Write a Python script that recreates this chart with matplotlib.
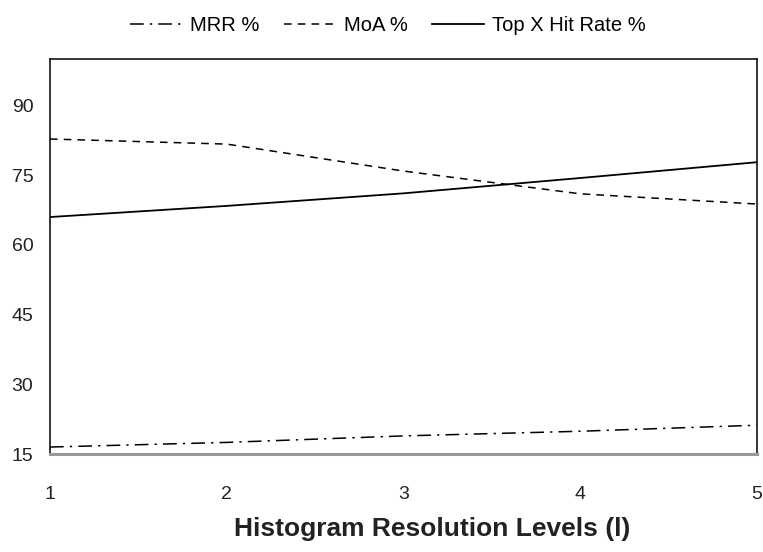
import matplotlib
matplotlib.use('Agg')
import matplotlib.pyplot as plt

plt.rcParams['font.family'] = ['Liberation Sans', 'DejaVu Sans']

# values
levels = [1, 2, 3, 4, 5]
mrr = [16.5, 17.5, 18.9, 19.9, 21.2]
moa = [82.8, 81.7, 75.9, 71.0, 68.8]
top_x = [66.0, 68.4, 71.1, 74.4, 77.8]
yticks = [15, 30, 45, 60, 75, 90]

fig = plt.figure(figsize=(7.63, 5.52), dpi=100)
ax = fig.add_axes([0.0655, 0.1775, 0.9265, 0.7155])

ax.plot(levels, mrr, color='black', lw=1.1, dashes=(9, 4, 1.5, 4), label='MRR %')
ax.plot(levels, moa, color='black', lw=1.1, dashes=(5, 4), label='MoA %')
ax.plot(levels, top_x, color='black', lw=1.3, label='Top X Hit Rate %')

ax.set_xlim(1, 5)
ax.set_ylim(15, 100)
ax.set_xticks(levels)
ax.set_yticks(yticks)
ax.tick_params(length=0, labelsize=14, colors='#222222')
ax.tick_params(axis='x', pad=23)
ax.tick_params(axis='y', pad=12)

for side in ['left', 'top', 'right']:
    ax.spines[side].set_linewidth(1.1)
ax.spines['bottom'].set_color('#999999')
ax.spines['bottom'].set_linewidth(2.2)

ax.set_xlabel('Histogram Resolution Levels (l)', fontsize=19, fontweight='bold',
              color='#222222')
ax.xaxis.set_label_coords(0.54, -0.16)

ax.legend(loc='lower center', bbox_to_anchor=(0.478, 1.015), ncol=3, frameon=False,
          fontsize=14.5, handlelength=2.6, columnspacing=1.2, handletextpad=0.4)

fig.savefig('out.png', dpi=100)
